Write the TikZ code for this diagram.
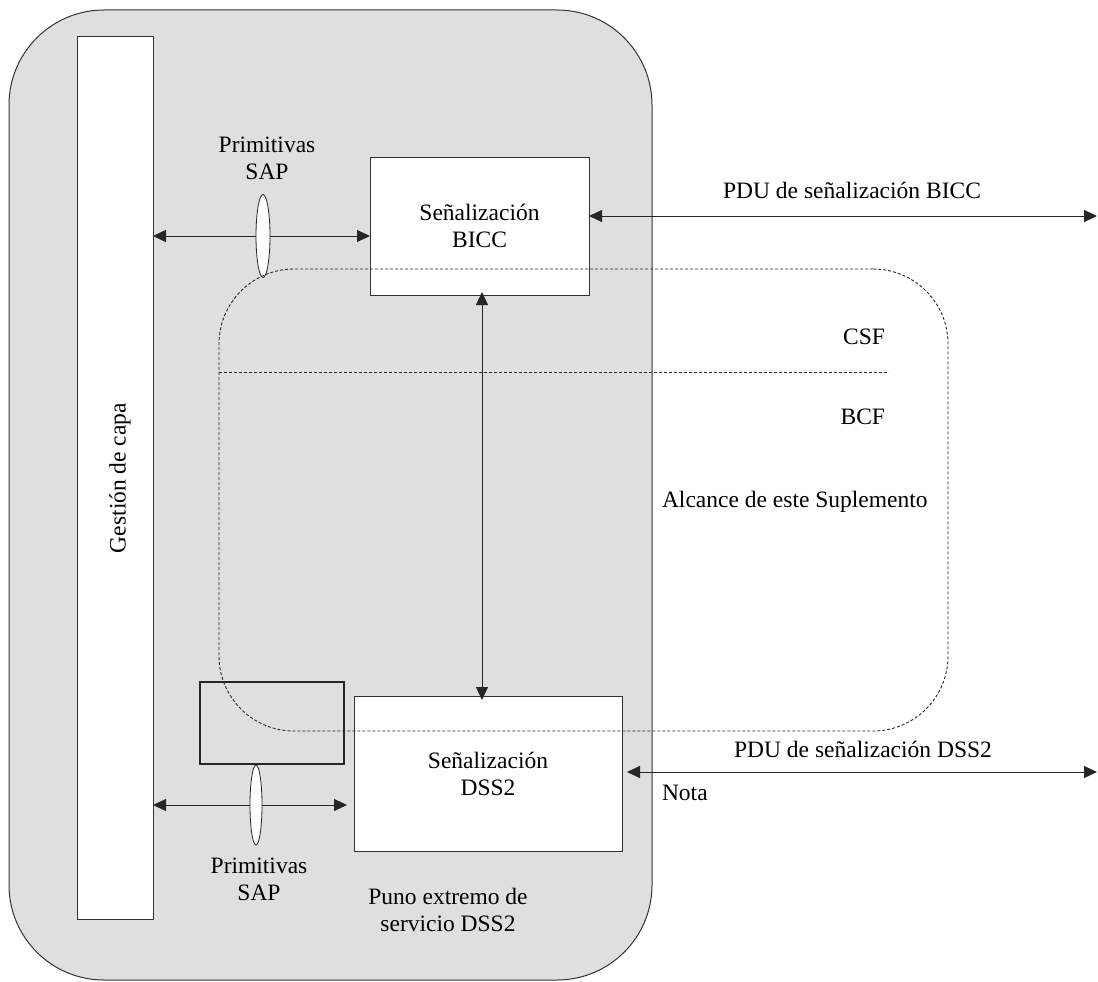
\documentclass[tikz,border=0pt]{standalone}
\usepackage{fontspec}
\setmainfont{Liberation Serif}
\usetikzlibrary{arrows.meta,calc,shapes.geometric}
\definecolor{greyfill}{HTML}{DFDFDF}
\definecolor{edge}{HTML}{333333}
\tikzset{
  box/.style={draw=edge, line width=1pt, fill=white, inner sep=0pt, outer sep=0pt},
  greybox/.style={draw=edge, line width=1pt, fill=greyfill, rounded corners=95pt, inner sep=0pt, outer sep=0pt},
  thickbox/.style={draw=black!85, line width=2pt, inner sep=0pt, outer sep=0pt},
  supbox/.style={draw=black!85, line width=0.9pt, dash pattern=on 3pt off 2pt, rounded corners=75pt, inner sep=0pt, outer sep=0pt},
  dline/.style={draw=black!85, line width=0.9pt, dash pattern=on 3pt off 2pt},
  arr/.style={draw=black!85, line width=1pt, {Triangle[length=13pt,width=12pt]}-{Triangle[length=13pt,width=12pt]}},
  lens/.style={ellipse, draw=black!85, line width=0.8pt, fill=white, inner sep=0pt, outer sep=0pt},
  txt/.style={inner sep=0pt, outer sep=0pt, font=\fontsize{23.5}{27}\selectfont, align=center}
}
\begin{document}
\begin{tikzpicture}[x=1pt,y=-1pt]
\useasboundingbox (0,0) rectangle (1098,982);
% outer grey box
\node[greybox, minimum width=643pt, minimum height=970pt] (outer) at (330.5,495) {};
% layer management bar
\node[box, minimum width=76pt, minimum height=882pt] (bar) at (115,478) {};
\node[txt, rotate=90] (gestion) at (120,478) {Gestión de capa};
% signalling boxes
\node[box, minimum width=219pt, minimum height=138pt] (bicc) at (479.5,226) {};
\node[txt] (bicctxt) at (479.5,226) {Señalización\\BICC};
\node[box, minimum width=268pt, minimum height=155pt] (dss2) at (488,773.5) {};
\node[txt] (dss2txt) at (488,773.5) {Señalización\\DSS2};
% small thick box
\node[thickbox, minimum width=144pt, minimum height=82pt] (small) at (272,723) {};
% coordinates
\coordinate (v) at (482,0);
\coordinate (r1) at (1097,216);
\coordinate (r2) at (1097,772);
\coordinate (l1) at (263,236);
\coordinate (l2) at (256,805);
% arrows
\draw[arr] (bar.east |- l1) -- (bicc.west |- l1);
\draw[arr] (bar.east |- l2) -- ([xshift=-7pt]dss2.west |- l2);
\draw[arr] ([yshift=3pt]bicc.south -| v) -- ([yshift=-4pt]dss2.north -| v);
\draw[arr] (bicc.east |- r1) -- (r1);
\draw[arr] ([xshift=5pt]dss2.east |- r2) -- (r2);
% SAP lenses
\node[lens, minimum width=14pt, minimum height=83pt] (lens1) at (l1) {};
\node[lens, minimum width=12pt, minimum height=80pt] (lens2) at (l2) {};
% scope of supplement
\node[supbox, minimum width=729pt, minimum height=462pt] (scopebox) at (583.5,500) {};
\coordinate (csfend) at (889,372);
\draw[dline] (scopebox.west |- csfend) -- (csfend);
% labels
\node[txt] (sap1) at (267,158) {Primitivas\\SAP};
\node[txt] (sap2) at (259,879) {Primitivas\\SAP};
\node[txt, anchor=east] (csf) at (885,337) {CSF};
\node[txt, anchor=east] (bcf) at (885,417) {BCF};
\node[txt, anchor=west] (alc) at (662,502) {Alcance de este Suplemento};
\node[txt] (pdu1) at (852,190) {PDU de señalización BICC};
\node[txt] (pdu2) at (863,749) {PDU de señalización DSS2};
\node[txt, anchor=west] (nota) at (662,793) {Nota};
\node[txt] (puno) at (448,910) {Puno extremo de\\servicio DSS2};
\end{tikzpicture}
\end{document}
